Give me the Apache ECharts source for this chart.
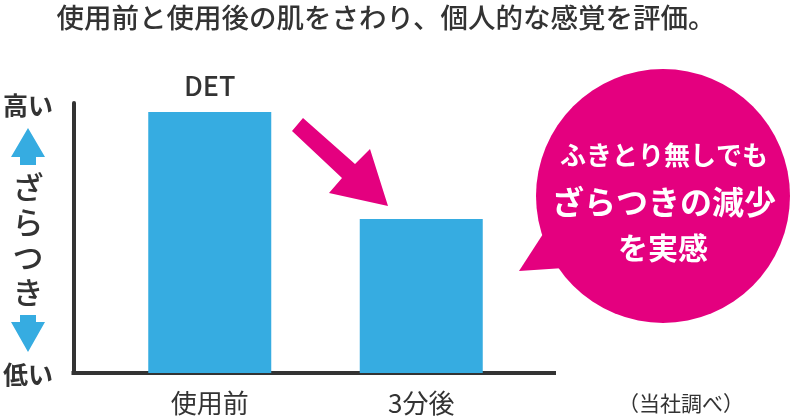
<!DOCTYPE html>
<html><head><meta charset="utf-8">
<script src="https://cdn.jsdelivr.net/npm/echarts@6/dist/echarts.min.js"></script>
<style>html,body{margin:0;padding:0;background:#fff}#c{width:792px;height:417px}</style>
</head><body><div id="c"></div>
<script>
const categories = ['使用前', '3分後'];
const roughness = [96.7, 57.0];
const barTopLabel = ['DET', ''];
const titleText = '使用前と使用後の肌をさわり、個人的な感覚を評価。';
const axisHigh = '高い';
const axisLow = '低い';
const axisName = 'ざらつき';
const bubbleLines = ['ふきとり無しでも', 'ざらつきの減少', 'を実感'];
const sourceNote = '（当社調べ）';

const FONT = '"Noto Sans CJK JP", "Noto Sans", sans-serif';
const TXT = '#333333';
const BLUE = '#36ACE1';
const MAG = '#E4007F';

const chart = echarts.init(document.getElementById('c'), null, {renderer: 'canvas'});
chart.setOption({
  animation: false,
  textStyle: {fontFamily: FONT},
  grid: [
    {left: 104, width: 423, top: 103, bottom: 44},
    {left: 73.5, width: 480.5, top: 103, bottom: 44}
  ],
  xAxis: [
    {type: 'category', gridIndex: 0, data: categories,
     axisLine: {show: false}, axisTick: {show: false},
     axisLabel: {fontSize: 26, color: TXT, margin: 17, lineHeight: 26, fontFamily: FONT}},
    {type: 'category', gridIndex: 1, data: [''],
     axisLine: {show: true, lineStyle: {color: TXT, width: 4, cap: 'square'}},
     axisTick: {show: false}, axisLabel: {show: false}}
  ],
  yAxis: [
    {type: 'value', gridIndex: 0, min: 0, max: 100,
     axisLine: {show: false}, axisTick: {show: false}, axisLabel: {show: false}, splitLine: {show: false}},
    {type: 'value', gridIndex: 1, min: 0, max: 100,
     axisLine: {show: true, lineStyle: {color: TXT, width: 4}},
     axisTick: {show: false}, axisLabel: {show: false}, splitLine: {show: false}}
  ],
  series: [{
    type: 'bar', xAxisIndex: 0, yAxisIndex: 0,
    barWidth: 123,
    itemStyle: {color: BLUE},
    data: roughness.map((v, i) => ({
      value: v,
      label: {show: barTopLabel[i] !== '', position: 'top', distance: 12,
        formatter: barTopLabel[i], fontSize: 27, fontWeight: 500, color: TXT, lineHeight: 28, fontFamily: FONT}
    }))
  }],
  graphic: [
    {type: 'text', style: {text: titleText, x: 386, y: 18, textAlign: 'center', textVerticalAlign: 'middle', font: '500 27.5px ' + FONT, fill: TXT}},
    {type: 'text', style: {text: axisHigh, x: 28, y: 105, textAlign: 'center', textVerticalAlign: 'middle', font: 'bold 25px ' + FONT, fill: TXT}},
    {type: 'text', style: {text: axisLow, x: 28, y: 374, textAlign: 'center', textVerticalAlign: 'middle', font: 'bold 25px ' + FONT, fill: TXT}},
    {type: 'polygon', shape: {points: [[28,128],[45,157],[36,157],[36,165],[20,165],[20,157],[11,157]]}, style: {fill: BLUE}},
    {type: 'polygon', shape: {points: [[20,315],[36,315],[36,322],[45,322],[28,352],[11,322],[20,322]]}, style: {fill: BLUE}},
    {type: 'text', style: {text: axisName.split('').join('\n'), x: 28, y: 240, textAlign: 'center', textVerticalAlign: 'middle', fontSize: 31, fontWeight: 500, fontFamily: FONT, lineHeight: 35, fill: TXT}},
    {type: 'polygon', shape: {points: [[303,118],[355,164],[370,149],[388,206],[329,193],[342,178],[292,131]]}, style: {fill: MAG}},
    {type: 'circle', shape: {cx: 663, cy: 196, r: 127}, style: {fill: MAG}},
    {type: 'polygon', shape: {points: [[519,271],[543,234],[564,268]]}, style: {fill: MAG}},
    {type: 'text', style: {text: bubbleLines[0], x: 664, y: 155, textAlign: 'center', textVerticalAlign: 'middle', font: 'bold 26px ' + FONT, fill: '#fff'}},
    {type: 'text', style: {text: bubbleLines[1], x: 664, y: 202, textAlign: 'center', textVerticalAlign: 'middle', font: 'bold 32px ' + FONT, fill: '#fff'}},
    {type: 'text', style: {text: bubbleLines[2], x: 663, y: 248, textAlign: 'center', textVerticalAlign: 'middle', font: 'bold 30px ' + FONT, fill: '#fff'}},
    {type: 'text', style: {text: sourceNote, x: 681, y: 403, textAlign: 'center', textVerticalAlign: 'middle', font: '21px ' + FONT, fill: TXT}}
  ]
});
</script></body></html>
